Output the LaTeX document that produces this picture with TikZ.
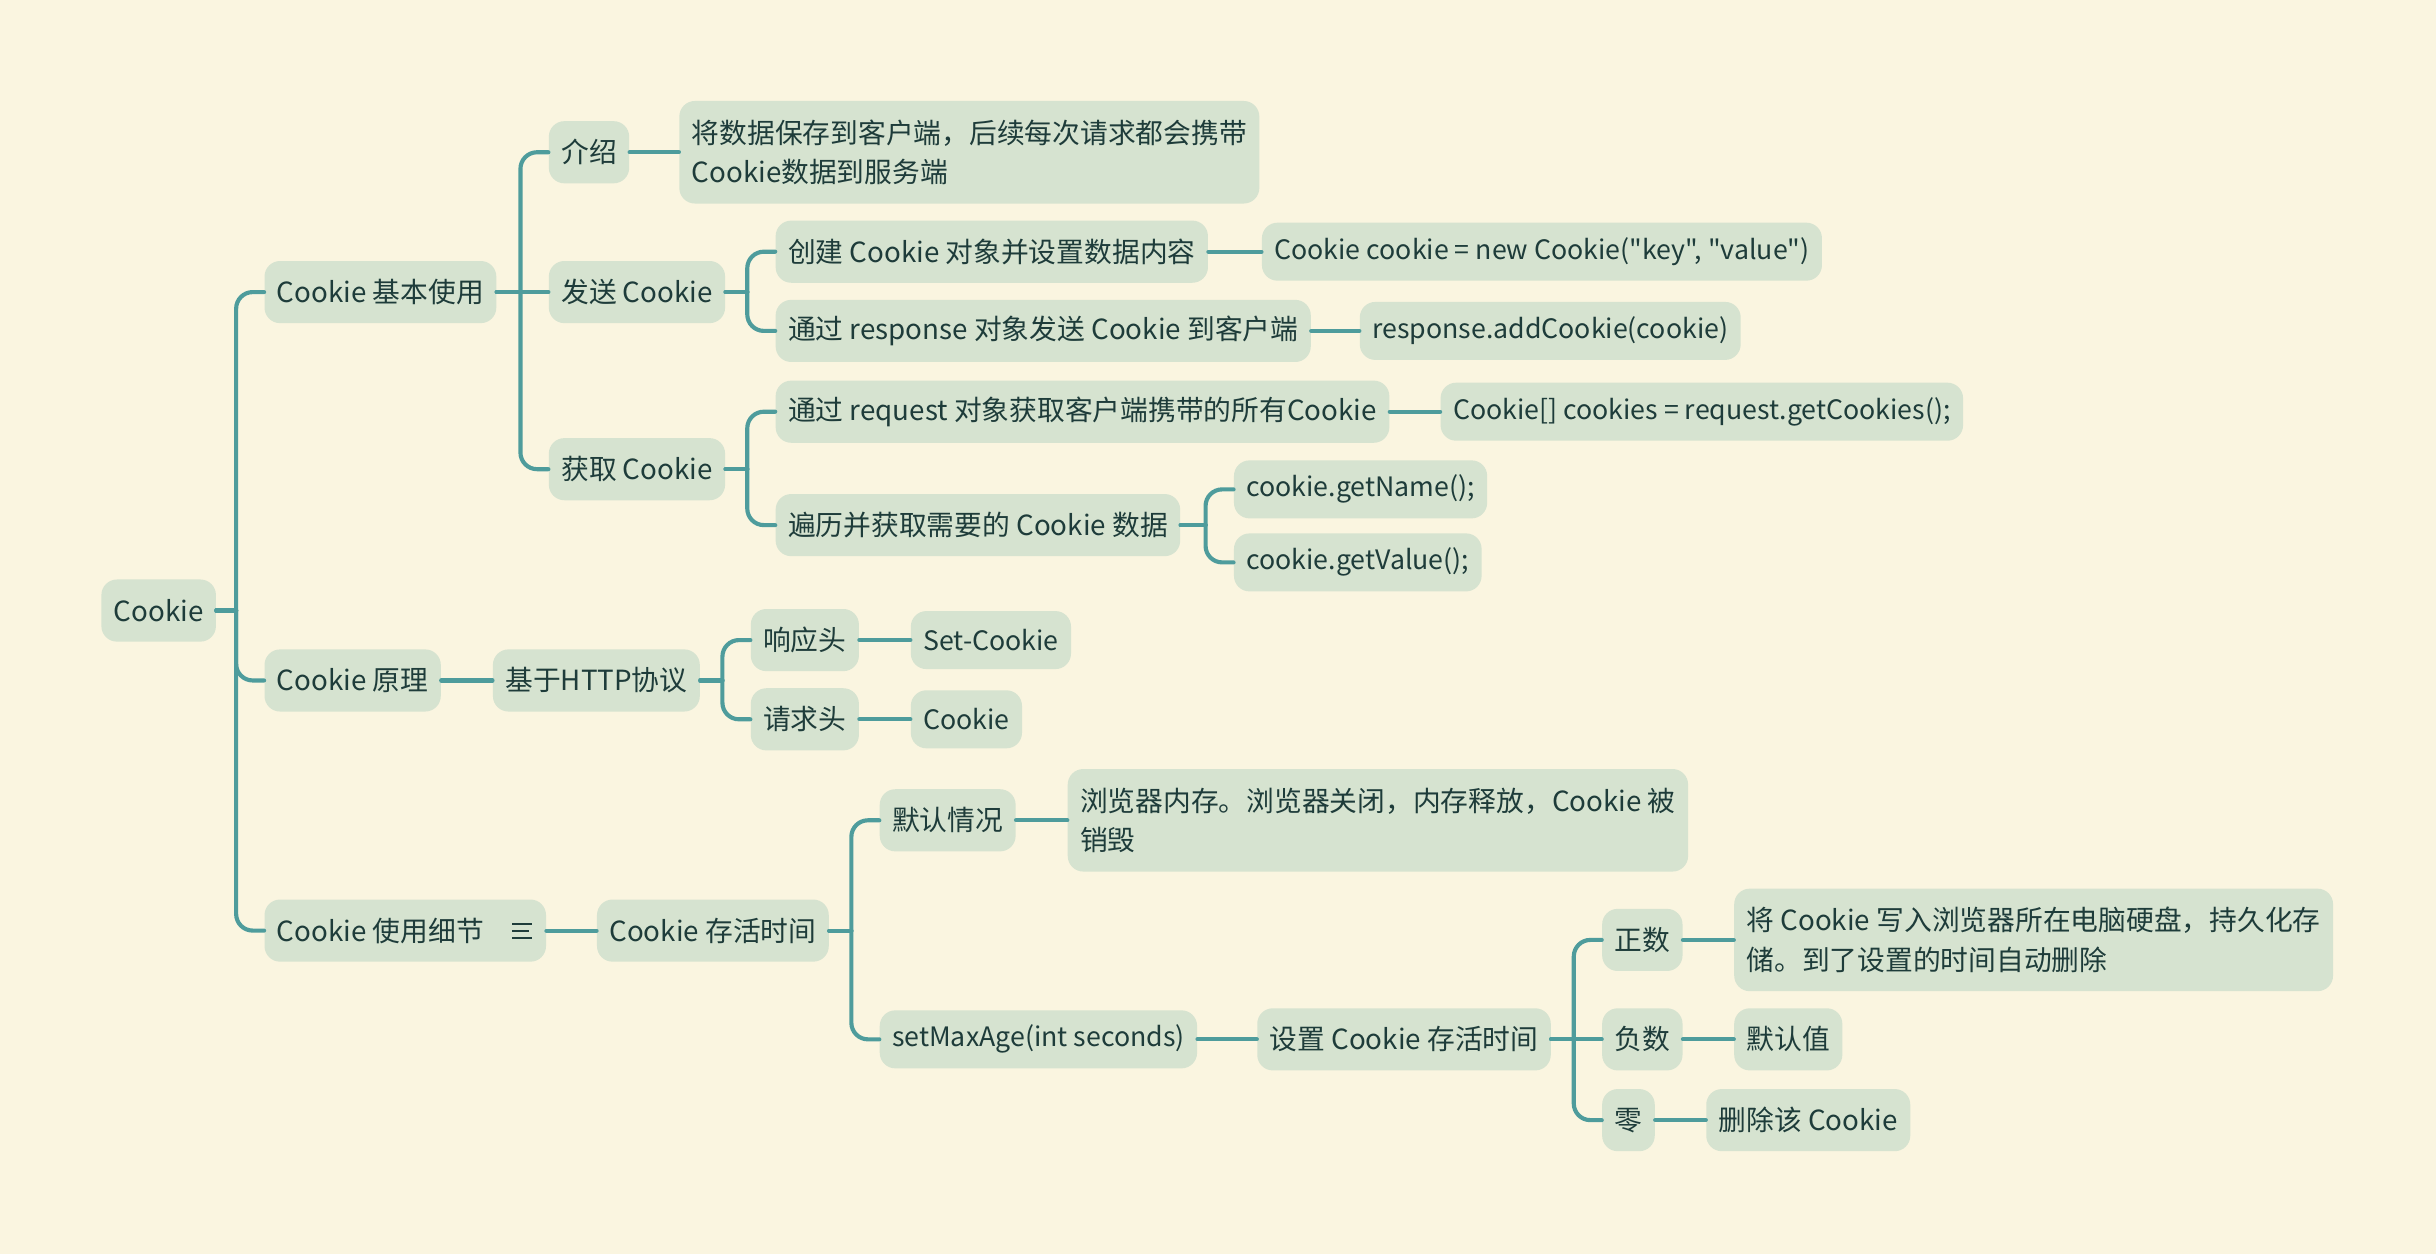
\documentclass[tikz,border=0pt]{standalone}
\usepackage{fontspec}
\newfontfamily\mapfont{Noto Sans CJK SC}
\usepackage{tikz}

\definecolor{bgcol}{HTML}{FAF5E0}
\definecolor{boxcol}{HTML}{D6E3D0}
\definecolor{linecol}{HTML}{4E9C9C}
\definecolor{txtcol}{HTML}{1E3C3A}

\tikzstyle{topic}=[fill=boxcol, text=txtcol, rounded corners=7.5pt, minimum height=30pt, inner xsep=6pt, inner ysep=0pt, anchor=west, font=\mapfont\fontsize{13.4}{18.9}\selectfont]
\tikzstyle{code}=[topic, minimum height=28pt, font=\mapfont\fontsize{12.9}{18.9}\selectfont]
\tikzstyle{note}=[topic, align=left, minimum height=49.5pt]
\tikzstyle{link}=[line width=2pt, color=linecol, line cap=round]

% parent -> child, elbow with a rounded turn
\newcommand{\branch}[2]{%
\path (#2.west) ++(-18,0) coordinate (tk);
\draw [link] (#1.east) -- (tk |- #1.east);
\draw [link, rounded corners=8pt] (tk |- #1.east) |- (#2.west);}
% parent -> child on the same line
\newcommand{\straight}[2]{\draw [link] (#1.east) -- (#2.west);}

\begin{document}
\begin{tikzpicture}[x=0.75pt,y=-0.75pt]
\fill [bgcol] (0,0) rectangle (1568,807);
\useasboundingbox (0,0) rectangle (1568,807);

\node [topic] (ck) at (65,393) {Cookie};
%\node [topic] (ck) at (65,390) {Cookie};
\node [topic] (basic) at (170,188) {Cookie 基本使用};
\node [topic] (prin) at (170,438) {Cookie 原理};
\node [topic] (detail) at (170,599) {Cookie 使用细节\hspace*{24pt}};

\node [topic] (intro) at (353,98) {介绍};
\node [topic] (send) at (353,188) {发送 Cookie};
\node [topic] (get) at (353,302) {获取 Cookie};

\node [note] (introtxt) at (437,98) {将数据保存到客户端，后续每次请求都会携带\\Cookie数据到服务端};
\node [topic] (create) at (499,162) {创建 Cookie 对象并设置数据内容};
\node [code] (newck) at (812,162) {Cookie cookie = new Cookie("key", "value")};
\node [topic] (resp) at (499,213) {通过 response 对象发送 Cookie 到客户端};
\node [code] (addck) at (875,213) {response.addCookie(cookie)};
\node [topic] (req) at (499,265) {通过 request 对象获取客户端携带的所有Cookie};
\node [code] (getcks) at (927,265) {Cookie[] cookies = request.getCookies();};
\node [topic] (loop) at (499,338) {遍历并获取需要的 Cookie 数据};
\node [code] (gname) at (794,315) {cookie.getName();};
\node [code] (gval) at (794,362) {cookie.getValue();};

\node [topic] (http) at (317,438) {基于HTTP协议};
\node [topic] (rsph) at (483,412) {响应头};
\node [code] (setck) at (586,412) {Set-Cookie};
\node [topic] (reqh) at (483,463) {请求头};
\node [code] (ckh) at (586,463) {Cookie};

\node [topic] (alive) at (384,599) {Cookie 存活时间};
\node [topic] (dflt) at (566,528) {默认情况};
\node [note] (mem) at (687,528) {浏览器内存。浏览器关闭，内存释放，Cookie 被\\销毁};
\node [code] (maxage) at (566,669) {setMaxAge(int seconds)};
\node [topic] (setalive) at (809,669) {设置 Cookie 存活时间};
\node [topic] (pos) at (1031,605) {正数};
\node [note] (disk) at (1116,605) {将 Cookie 写入浏览器所在电脑硬盘，持久化存\\储。到了设置的时间自动删除};
\node [topic] (neg) at (1031,669) {负数};
\node [topic] (dval) at (1116,669) {默认值};
\node [topic] (zero) at (1031,721) {零};
\node [topic] (del) at (1098,721) {删除该 Cookie};

% note icon
\draw [txtcol, line width=1pt] (detail.east) ++(-22,-4.5) -- ++(13,0);
\draw [txtcol, line width=1pt] (detail.east) ++(-22,0) -- ++(11,0);
\draw [txtcol, line width=1pt] (detail.east) ++(-22,4.5) -- ++(13,0);

\branch{ck}{basic}
\branch{ck}{prin}
\branch{ck}{detail}
\branch{basic}{intro}
\straight{basic}{send}
\branch{basic}{get}
\straight{intro}{introtxt}
\branch{send}{create}
\branch{send}{resp}
\straight{create}{newck}
\straight{resp}{addck}
\branch{get}{req}
\branch{get}{loop}
\straight{req}{getcks}
\branch{loop}{gname}
\branch{loop}{gval}
\straight{prin}{http}
\branch{http}{rsph}
\branch{http}{reqh}
\straight{rsph}{setck}
\straight{reqh}{ckh}
\straight{detail}{alive}
\branch{alive}{dflt}
\branch{alive}{maxage}
\straight{dflt}{mem}
\straight{maxage}{setalive}
\branch{setalive}{pos}
\straight{setalive}{neg}
\branch{setalive}{zero}
\straight{pos}{disk}
\straight{neg}{dval}
\straight{zero}{del}
\end{tikzpicture}
\end{document}
